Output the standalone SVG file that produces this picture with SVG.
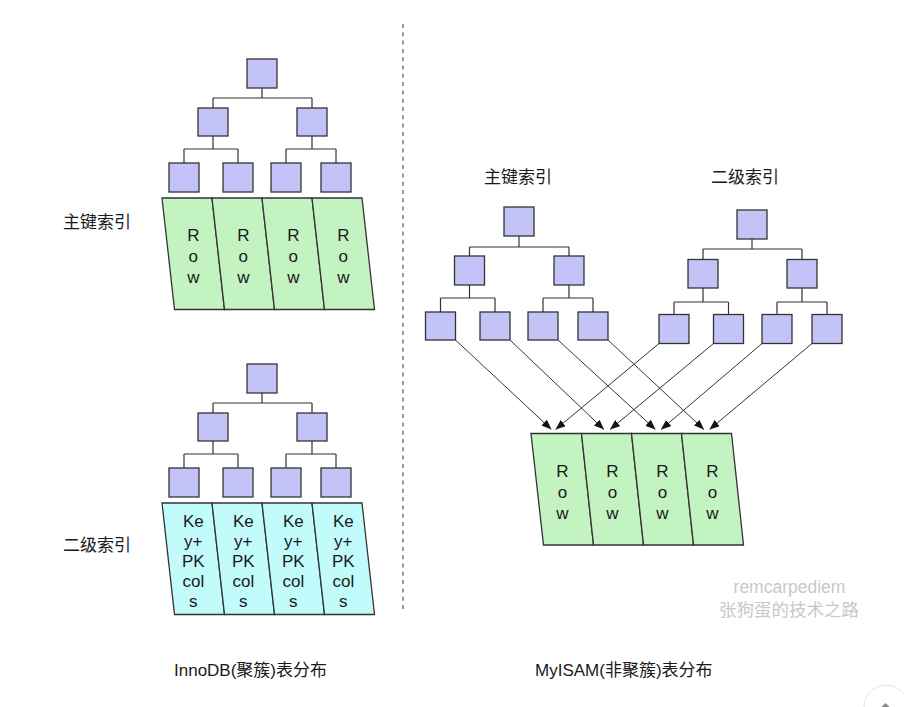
<svg xmlns="http://www.w3.org/2000/svg" width="904" height="707" viewBox="0 0 904 707">
<defs>
<style>
.box{fill:#c3c3f8;stroke:#333;stroke-width:1.3}
.row{fill:#c2f3c0;stroke:#333;stroke-width:1.3}
.key{fill:#c2fbfb;stroke:#333;stroke-width:1.3}
.edge{fill:none;stroke:#333;stroke-width:1.2}
.arrow{fill:none;stroke:#333;stroke-width:1;marker-end:url(#ah)}
.t{font-family:"Liberation Sans","Noto Sans CJK SC",sans-serif;font-size:17px;fill:#1a1a1a}
.c{text-anchor:middle}
.wm{font-family:"Liberation Sans","Noto Sans CJK SC",sans-serif;font-size:17.5px;fill:#c8c8c8;text-anchor:middle}
</style>
<marker id="ah" viewBox="0 0 10 8" refX="10" refY="4" markerWidth="10" markerHeight="8" markerUnits="userSpaceOnUse" orient="auto">
<path d="M0,0 L10,4 L0,8 z" fill="#111"/>
</marker>
</defs>
<rect x="0" y="0" width="904" height="707" fill="#ffffff"/>

<g id="connectors">
<!-- InnoDB primary -->
<path class="edge" d="M262,88 V98 M213,98 H312 M213,98 V108 M312,98 V108 M213,136 V149 M184,149 H238 M184,149 V163 M238,149 V163 M312,136 V149 M286,149 H336 M286,149 V163 M336,149 V163"/>
<!-- InnoDB secondary -->
<path class="edge" d="M262,393 V403 M213,403 H312 M213,403 V413 M312,403 V413 M213,441 V454 M184,454 H238 M184,454 V468 M238,454 V468 M312,441 V454 M286,454 H336 M286,454 V468 M336,454 V468"/>
<!-- MyISAM primary -->
<path class="edge" d="M519,236 V247 M469.5,247 H569 M469.5,247 V256 M569,247 V256 M469.5,285 V298 M440.5,298 H495 M440.5,298 V312 M495,298 V312 M569,285 V298 M543,298 H593 M543,298 V312 M593,298 V312"/>
<!-- MyISAM secondary -->
<path class="edge" d="M752,239 V249 M703,249 H802 M703,249 V259.5 M802,249 V259.5 M703,288 V302 M674,302 H728.5 M674,302 V314.5 M728.5,302 V314.5 M802,288 V302 M777,302 H827 M777,302 V314.5 M827,302 V314.5"/>
<!-- arrows -->
<line class="arrow" x1="455.5" y1="340" x2="551.5" y2="429.5"/>
<line class="arrow" x1="510" y1="340" x2="604" y2="429.5"/>
<line class="arrow" x1="558" y1="340" x2="655.5" y2="429.5"/>
<line class="arrow" x1="608" y1="340" x2="704" y2="429.5"/>
<line class="arrow" x1="659" y1="343.5" x2="555.5" y2="429.5"/>
<line class="arrow" x1="713.5" y1="343.5" x2="610" y2="429.5"/>
<line class="arrow" x1="762" y1="343.5" x2="661" y2="429.5"/>
<line class="arrow" x1="812" y1="343.5" x2="709.5" y2="429.5"/>
</g>

<!-- divider -->
<line id="divider" x1="403" y1="24" x2="403" y2="611" stroke="#555" stroke-width="1.2" stroke-dasharray="4 4.3"/>

<!-- InnoDB primary index tree -->
<g id="inno-pk-root"><rect class="box" x="247" y="59" width="30" height="29"/></g>
<g id="inno-pk-l2a"><rect class="box" x="198" y="108" width="30" height="28"/></g>
<g id="inno-pk-l2b"><rect class="box" x="297" y="108" width="30" height="28"/></g>
<g id="inno-pk-l3a"><rect class="box" x="169" y="163" width="30" height="29"/></g>
<g id="inno-pk-l3b"><rect class="box" x="223" y="163" width="30" height="29"/></g>
<g id="inno-pk-l3c"><rect class="box" x="271" y="163" width="30" height="29"/></g>
<g id="inno-pk-l3d"><rect class="box" x="321" y="163" width="30" height="29"/></g>
<g id="inno-pk-row1"><polygon class="row" points="162,198 212,198 224.5,309.5 174.5,309.5"/>
<text class="t c" x="193.3" y="241">R</text><text class="t c" x="193.3" y="262">o</text><text class="t c" x="193.3" y="283">w</text></g>
<g id="inno-pk-row2"><polygon class="row" points="212,198 262,198 274.5,309.5 224.5,309.5"/>
<text class="t c" x="243.3" y="241">R</text><text class="t c" x="243.3" y="262">o</text><text class="t c" x="243.3" y="283">w</text></g>
<g id="inno-pk-row3"><polygon class="row" points="262,198 312,198 324.5,309.5 274.5,309.5"/>
<text class="t c" x="293.3" y="241">R</text><text class="t c" x="293.3" y="262">o</text><text class="t c" x="293.3" y="283">w</text></g>
<g id="inno-pk-row4"><polygon class="row" points="312,198 362,198 374.5,309.5 324.5,309.5"/>
<text class="t c" x="343.3" y="241">R</text><text class="t c" x="343.3" y="262">o</text><text class="t c" x="343.3" y="283">w</text></g>
<g id="label-inno-pk"><text class="t" x="63" y="228">主键索引</text></g>

<!-- InnoDB secondary index tree -->
<g id="inno-sk-root"><rect class="box" x="247" y="364" width="30" height="29"/></g>
<g id="inno-sk-l2a"><rect class="box" x="198" y="413" width="30" height="28"/></g>
<g id="inno-sk-l2b"><rect class="box" x="297" y="413" width="30" height="28"/></g>
<g id="inno-sk-l3a"><rect class="box" x="169" y="468" width="30" height="29"/></g>
<g id="inno-sk-l3b"><rect class="box" x="223" y="468" width="30" height="29"/></g>
<g id="inno-sk-l3c"><rect class="box" x="271" y="468" width="30" height="29"/></g>
<g id="inno-sk-l3d"><rect class="box" x="321" y="468" width="30" height="29"/></g>
<g id="inno-sk-leaf1"><polygon class="key" points="162,503 212,503 224.5,614.5 174.5,614.5"/>
<text class="t c" x="193.3" y="527">Ke</text><text class="t c" x="193.3" y="547">y+</text><text class="t c" x="193.3" y="567">PK</text><text class="t c" x="193.3" y="587">col</text><text class="t c" x="193.3" y="607">s</text></g>
<g id="inno-sk-leaf2"><polygon class="key" points="212,503 262,503 274.5,614.5 224.5,614.5"/>
<text class="t c" x="243.3" y="527">Ke</text><text class="t c" x="243.3" y="547">y+</text><text class="t c" x="243.3" y="567">PK</text><text class="t c" x="243.3" y="587">col</text><text class="t c" x="243.3" y="607">s</text></g>
<g id="inno-sk-leaf3"><polygon class="key" points="262,503 312,503 324.5,614.5 274.5,614.5"/>
<text class="t c" x="293.3" y="527">Ke</text><text class="t c" x="293.3" y="547">y+</text><text class="t c" x="293.3" y="567">PK</text><text class="t c" x="293.3" y="587">col</text><text class="t c" x="293.3" y="607">s</text></g>
<g id="inno-sk-leaf4"><polygon class="key" points="312,503 362,503 374.5,614.5 324.5,614.5"/>
<text class="t c" x="343.3" y="527">Ke</text><text class="t c" x="343.3" y="547">y+</text><text class="t c" x="343.3" y="567">PK</text><text class="t c" x="343.3" y="587">col</text><text class="t c" x="343.3" y="607">s</text></g>
<g id="label-inno-sk"><text class="t" x="63" y="551">二级索引</text></g>

<!-- MyISAM primary index tree -->
<g id="label-my-pk"><text class="t" x="484" y="182.5">主键索引</text></g>
<g id="my-pk-root"><rect class="box" x="504" y="207" width="30" height="29"/></g>
<g id="my-pk-l2a"><rect class="box" x="454.5" y="256" width="30" height="29"/></g>
<g id="my-pk-l2b"><rect class="box" x="554" y="256" width="30" height="29"/></g>
<g id="my-pk-l3a"><rect class="box" x="425.5" y="312" width="30" height="28"/></g>
<g id="my-pk-l3b"><rect class="box" x="480" y="312" width="30" height="28"/></g>
<g id="my-pk-l3c"><rect class="box" x="528" y="312" width="30" height="28"/></g>
<g id="my-pk-l3d"><rect class="box" x="578" y="312" width="30" height="28"/></g>

<!-- MyISAM secondary index tree -->
<g id="label-my-sk"><text class="t" x="711" y="182.5">二级索引</text></g>
<g id="my-sk-root"><rect class="box" x="737" y="210" width="30" height="29"/></g>
<g id="my-sk-l2a"><rect class="box" x="688" y="259.5" width="30" height="28.5"/></g>
<g id="my-sk-l2b"><rect class="box" x="787" y="259.5" width="30" height="28.5"/></g>
<g id="my-sk-l3a"><rect class="box" x="659" y="314.5" width="30" height="29"/></g>
<g id="my-sk-l3b"><rect class="box" x="713.5" y="314.5" width="30" height="29"/></g>
<g id="my-sk-l3c"><rect class="box" x="762" y="314.5" width="30" height="29"/></g>
<g id="my-sk-l3d"><rect class="box" x="812" y="314.5" width="30" height="29"/></g>

<!-- MyISAM rows -->
<g id="my-row1"><polygon class="row" points="531,433.5 581.5,433.5 593.5,545 543.5,545"/>
<text class="t c" x="562.5" y="476.5">R</text><text class="t c" x="562.5" y="497.5">o</text><text class="t c" x="562.5" y="518.5">w</text></g>
<g id="my-row2"><polygon class="row" points="581.5,433.5 631.5,433.5 643.5,545 593.5,545"/>
<text class="t c" x="612.5" y="476.5">R</text><text class="t c" x="612.5" y="497.5">o</text><text class="t c" x="612.5" y="518.5">w</text></g>
<g id="my-row3"><polygon class="row" points="631.5,433.5 681.5,433.5 693.5,545 643.5,545"/>
<text class="t c" x="662.5" y="476.5">R</text><text class="t c" x="662.5" y="497.5">o</text><text class="t c" x="662.5" y="518.5">w</text></g>
<g id="my-row4"><polygon class="row" points="681.5,433.5 731.5,433.5 743.5,545 693.5,545"/>
<text class="t c" x="712.5" y="476.5">R</text><text class="t c" x="712.5" y="497.5">o</text><text class="t c" x="712.5" y="518.5">w</text></g>

<!-- captions -->
<g id="caption-inno"><text class="t" x="174" y="676">InnoDB(聚簇)表分布</text></g>
<g id="caption-my"><text class="t" x="535" y="676">MyISAM(非聚簇)表分布</text></g>

<!-- watermark -->
<g id="watermark">
<text class="wm" x="789.5" y="593">remcarpediem</text>
<text class="wm" x="789" y="616">张狗蛋的技术之路</text>
</g>

<!-- scroll button -->
<g id="scroll-top">
<circle cx="886" cy="707" r="22" fill="#ffffff" stroke="#e4e4e4" stroke-width="1"/>
<path d="M881,707.5 L885.5,703 L890,707.5 z" fill="#888"/>
</g>
</svg>
